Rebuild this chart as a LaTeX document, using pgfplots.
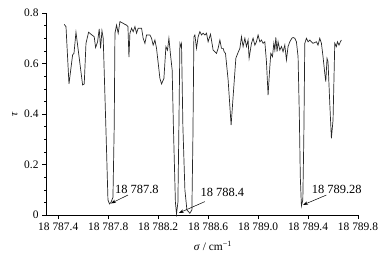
\documentclass[border=0pt]{standalone}
\usepackage{fontspec}
\setmainfont{Liberation Serif}
\usepackage{pgfplots}
\pgfplotsset{compat=1.18}
\usetikzlibrary{arrows.meta}
\begin{document}
\begin{tikzpicture}
\begin{axis}[
  at={(0,0)}, anchor=south west,
  scale only axis, width=312bp, height=202bp,
  xmin=18787.302, xmax=18789.8, ymin=0, ymax=0.8,
  axis x line*=bottom, axis y line*=left,
  axis line style={line width=0.6pt},
  tick align=outside,
  major tick length=4bp, minor tick length=2bp,
  tick style={black, line width=0.5pt},
  scaled x ticks=false, scaled y ticks=false,
  xtick={18787.4,18787.8,18788.2,18788.6,18789.0,18789.4,18789.8},
  xticklabels={18\ 787.4,18\ 787.8,18\ 788.2,18\ 788.6,18\ 789.0,18\ 789.4,18\ 789.8},
  ytick={0,0.2,0.4,0.6,0.8},
  minor y tick num=3,
  /pgf/number format/assume math mode=true,
  tick label style={font=\fontsize{11.5}{13}\selectfont},
  xlabel={\textit{σ} / cm\textsuperscript{−1}},
  ylabel={\textit{τ}},
  label style={font=\fontsize{11.5}{13}\selectfont},
  xlabel style={at={(axis description cs:0.535,-0.153)}, anchor=center},
  ylabel style={at={(axis description cs:-0.1,0.5)}, anchor=center},
  clip=false,
]
\addplot[black!85, line width=0.7pt] table {
x y
18787.448 0.755
18787.462 0.746
18787.486 0.519
18787.515 0.634
18787.526 0.640
18787.542 0.724
18787.595 0.515
18787.608 0.519
18787.622 0.680
18787.643 0.724
18787.662 0.716
18787.688 0.706
18787.699 0.663
18787.715 0.686
18787.728 0.737
18787.739 0.660
18787.750 0.730
18787.760 0.700
18787.782 0.337
18787.798 0.060
18787.810 0.044
18787.822 0.050
18787.838 0.070
18787.848 0.350
18787.854 0.720
18787.867 0.752
18787.880 0.720
18787.894 0.766
18787.920 0.759
18787.934 0.755
18787.947 0.752
18787.958 0.746
18787.966 0.625
18787.974 0.720
18787.987 0.740
18788.000 0.726
18788.014 0.746
18788.027 0.720
18788.040 0.740
18788.067 0.740
18788.080 0.700
18788.094 0.680
18788.107 0.713
18788.134 0.713
18788.147 0.700
18788.160 0.673
18788.174 0.693
18788.187 0.660
18788.214 0.541
18788.227 0.519
18788.246 0.541
18788.262 0.667
18788.275 0.653
18788.286 0.700
18788.299 0.634
18788.312 0.574
18788.322 0.350
18788.338 0.050
18788.347 0.005
18788.358 0.050
18788.366 0.350
18788.374 0.680
18788.382 0.667
18788.387 0.677
18788.398 0.350
18788.414 0.100
18788.430 0.020
18788.454 0.007
18788.470 0.020
18788.478 0.300
18788.486 0.706
18788.494 0.713
18788.507 0.660
18788.520 0.706
18788.534 0.726
18788.547 0.713
18788.560 0.720
18788.574 0.713
18788.587 0.720
18788.600 0.686
18788.619 0.716
18788.640 0.653
18788.667 0.640
18788.680 0.660
18788.694 0.693
18788.707 0.660
18788.720 0.660
18788.728 0.647
18788.739 0.640
18788.760 0.535
18788.784 0.356
18788.800 0.469
18788.822 0.621
18788.832 0.634
18788.854 0.660
18788.867 0.706
18788.880 0.667
18788.894 0.700
18788.907 0.667
18788.920 0.693
18788.928 0.621
18788.947 0.680
18788.960 0.700
18788.974 0.673
18788.987 0.686
18789.000 0.713
18789.014 0.686
18789.027 0.693
18789.040 0.680
18789.054 0.686
18789.067 0.607
18789.080 0.475
18789.094 0.587
18789.102 0.640
18789.115 0.627
18789.126 0.680
18789.134 0.653
18789.142 0.703
18789.152 0.647
18789.160 0.686
18789.174 0.653
18789.187 0.667
18789.200 0.647
18789.214 0.673
18789.227 0.614
18789.240 0.667
18789.254 0.686
18789.270 0.700
18789.280 0.703
18789.294 0.700
18789.307 0.686
18789.320 0.627
18789.330 0.400
18789.338 0.150
18789.347 0.036
18789.358 0.060
18789.366 0.300
18789.374 0.680
18789.387 0.700
18789.400 0.686
18789.414 0.693
18789.427 0.686
18789.440 0.680
18789.467 0.686
18789.480 0.673
18789.494 0.700
18789.507 0.680
18789.520 0.627
18789.534 0.561
18789.542 0.528
18789.552 0.620
18789.560 0.607
18789.574 0.442
18789.587 0.304
18789.600 0.376
18789.614 0.680
18789.627 0.667
18789.635 0.686
18789.648 0.673
18789.659 0.686
18789.667 0.693
};
\draw[-{Stealth[length=5pt,width=3.5pt]}, line width=0.5pt] (axis cs:18787.958,0.079) -- (axis cs:18787.822,0.046);
\node[font=\fontsize{12.5}{14}\selectfont] at (axis cs:18788.03,0.103) {18 787.8};
\draw[-{Stealth[length=5pt,width=3.5pt]}, line width=0.5pt] (axis cs:18788.574,0.053) -- (axis cs:18788.366,0.008);
\node[font=\fontsize{12.5}{14}\selectfont] at (axis cs:18788.714,0.088) {18 788.4};
\draw[-{Stealth[length=5pt,width=3.5pt]}, line width=0.5pt] (axis cs:18789.547,0.079) -- (axis cs:18789.36,0.040);
\node[font=\fontsize{12.5}{14}\selectfont] at (axis cs:18789.63,0.103) {18 789.28};
\end{axis}
\path[use as bounding box] (-46bp,-40bp) rectangle (346bp,215bp);
\end{tikzpicture}
\end{document}
